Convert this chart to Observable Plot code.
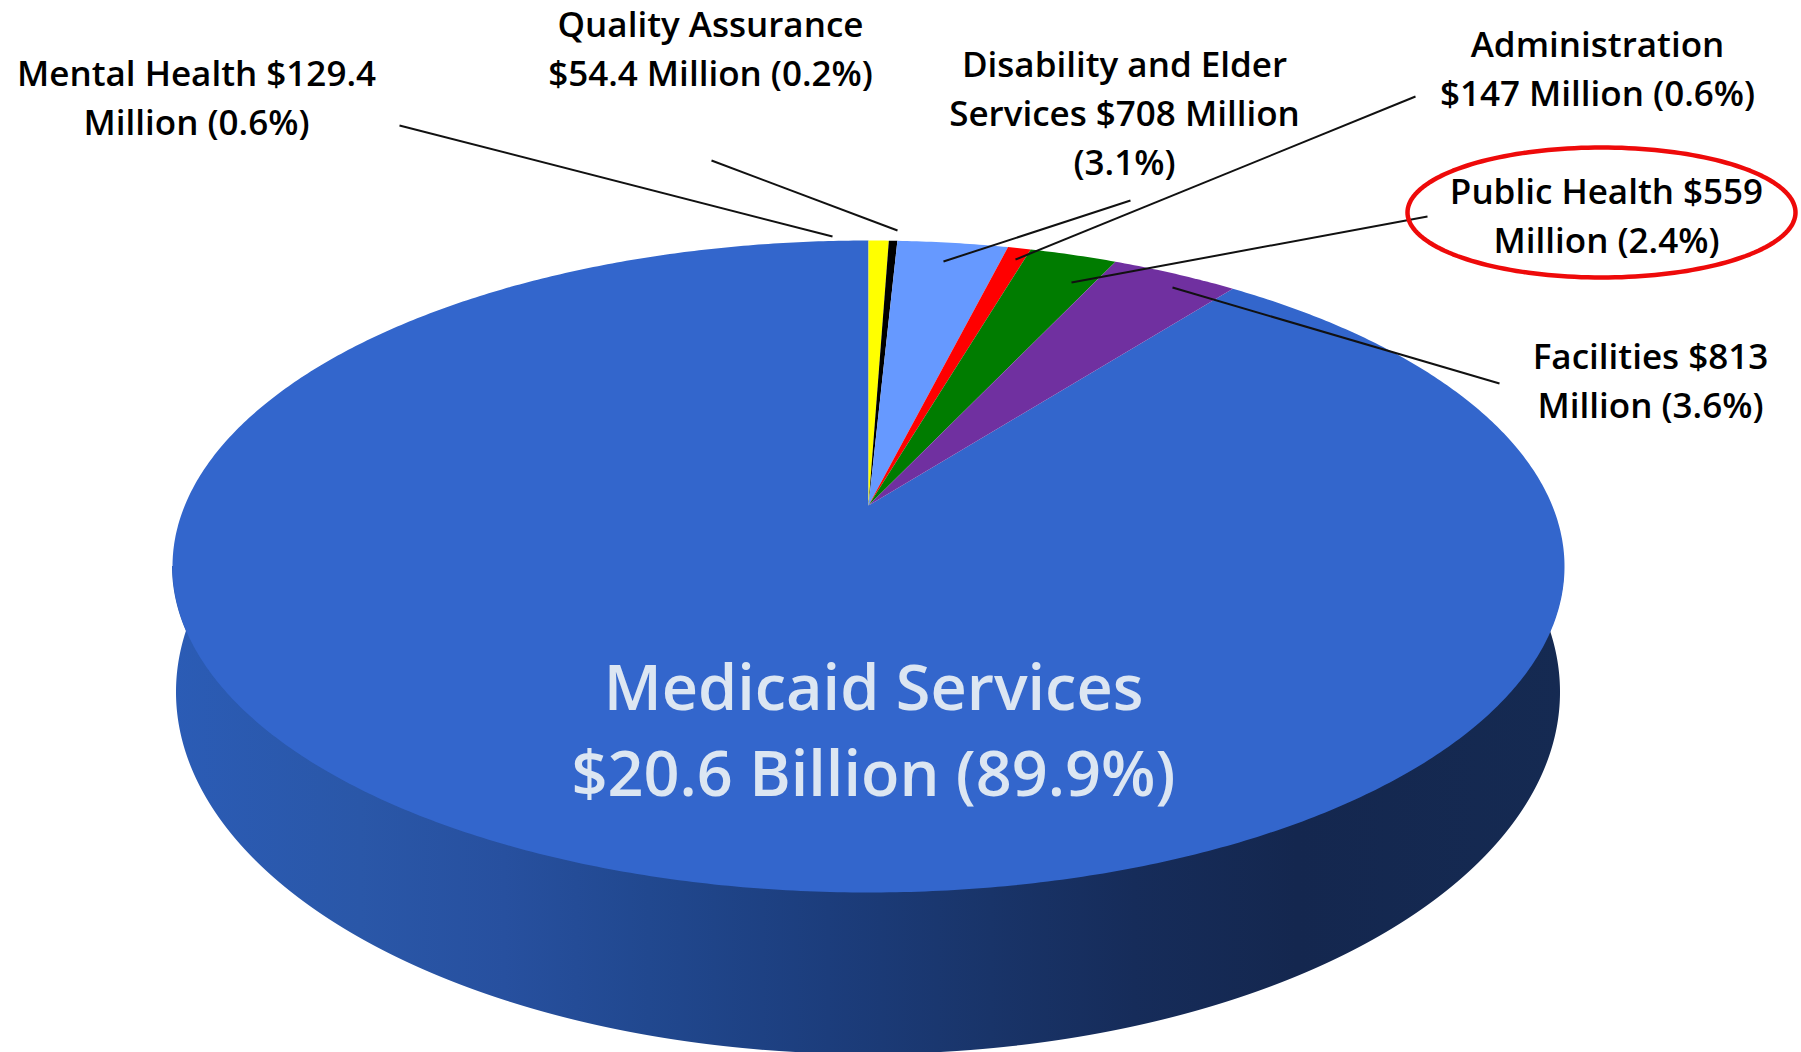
<!DOCTYPE html>
<html>
<head>
<meta charset="utf-8">
<script src="https://cdn.jsdelivr.net/npm/d3@7"></script>
<script src="https://cdn.jsdelivr.net/npm/@observablehq/plot@0.6"></script>
<style>
html,body{margin:0;padding:0;background:#fff;overflow:hidden}
svg{display:block}
</style>
</head>
<body>
<div id="chart"></div>
<script>
// Budget segments, clockwise from twelve o'clock (amounts in $ millions)
const segments = ["Mental Health","Quality Assurance","Disability and Elder Services","Administration","Public Health","Facilities","Medicaid Services"];
const amounts = [129.4,54.4,708,147,559,813,20600];
const segmentColors = ["#ffff00","#000000","#6699ff","#ff0000","#007c00","#7030a0","#3366cc"];

const labelTexts = [
  "Mental Health $129.4\nMillion (0.6%)",
  "Quality Assurance\n$54.4 Million (0.2%)",
  "Disability and Elder\nServices $708 Million\n(3.1%)",
  "Administration\n$147 Million (0.6%)",
  "Public Health $559\nMillion (2.4%)",
  "Facilities $813\nMillion (3.6%)"
];
const mainLabel = "Medicaid Services\n$20.6 Billion (89.9%)";

// layout (chart-frame units)
const labelX = [196,710,1124,1597,1606,1650];
const labelBaseline = [134,85,174,105,252,417];
const leaderFromX = [399,711,1130,1415,1427,1499];
const leaderFromY = [125,160,200,96,216,383];
const leaderToX = [832,897,943,1015,1071,1172];
const leaderToY = [236,230,261,259,282,287];
const W = 1801, H = 1052;
const disc = {cx:868, cy:566, rx:696, ry:326, apexY:505};
const rimBottom = {cy:692, rx:692, ry:362};
const callout = {cx:1601, cy:212, rx:194, ry:65};
const shadeOffsets = [0.09,0.2,0.28,0.36,0.46,0.55,0.63,0.72,0.87];
const shadeColors = ["#2b5cb6","#2a57a8","#27509f","#21488f","#1c3d7c","#193469","#162c5a","#14274f","#152a52"];

// perspective tilt of the disc: the apex sits above the ellipse centre
const a = (disc.apexY - disc.cy) / disc.ry;
function project(share) {
  const t = 2 * Math.PI * share, u = Math.sin(t), v = -Math.cos(t), d = 1 + a * v;
  return {x: disc.cx + disc.rx * u * Math.sqrt(1 - a * a) / d, y: disc.cy + disc.ry * (v + a) / d};
}
const total = d3.sum(amounts);
const wedgeRows = [];
let acc = 0;
segments.forEach((name, i) => {
  const start = acc / total; acc += amounts[i];
  const end = acc / total, n = Math.max(2, Math.ceil((end - start) * 720));
  wedgeRows.push({name, x: disc.cx, y: disc.apexY});
  for (let k = 0; k <= n; k++) wedgeRows.push({name, ...project(start + (end - start) * k / n)});
  wedgeRows.push({name, x: disc.cx, y: disc.apexY});
});
// draw the large slice first
const wedgesOrdered = [...wedgeRows.filter(d => d.name === "Medicaid Services"), ...wedgeRows.filter(d => d.name !== "Medicaid Services")];

const halfWidth = y => {
  const e = (r, cy, ry) => { const t = (y - cy) / ry; return Math.abs(t) < 1 ? r * Math.sqrt(1 - t * t) : 0; };
  return Math.max(e(disc.rx, disc.cy, disc.ry), e(rimBottom.rx, rimBottom.cy, rimBottom.ry));
};
const sideRows = d3.range(disc.cy, H + 0.5, 1).map(y => ({y, x1: disc.cx - halfWidth(y), x2: disc.cx + halfWidth(y)}));
const calloutRows = d3.range(0, 361, 2).map(deg => ({
  x: callout.cx + callout.rx * Math.cos(deg * Math.PI / 180),
  y: callout.cy + callout.ry * Math.sin(deg * Math.PI / 180)
}));
const leaders = labelTexts.map((t, i) => ({x1: leaderFromX[i], y1: leaderFromY[i], x2: leaderToX[i], y2: leaderToY[i]}));
const labels = labelTexts.map((text, i) => ({text, x: labelX[i], y: labelBaseline[i]}));

const gradient = () => {
  const defs = d3.create("svg:defs");
  const g = defs.append("linearGradient").attr("id", "sideShade").attr("gradientUnits", "userSpaceOnUse")
    .attr("x1", 0).attr("x2", W).attr("y1", 0).attr("y2", 0);
  shadeOffsets.forEach((o, i) => g.append("stop").attr("offset", o).attr("stop-color", shadeColors[i]));
  return defs.node();
};

const chart = Plot.plot({
  width: W, height: H, margin: 0,
  style: {fontFamily: "'Open Sans', sans-serif", background: "#fff", overflow: "hidden"},
  x: {domain: [0, W], range: [0, W], axis: null},
  y: {domain: [0, H], range: [0, H], axis: null},
  color: {domain: segments, range: segmentColors},
  marks: [
    gradient,
    Plot.areaX(sideRows, {y: "y", x1: "x1", x2: "x2", fill: "url(#sideShade)"}),
    Plot.line(wedgesOrdered, {x: "x", y: "y", z: "name", fill: "name", stroke: "none", curve: "linear"}),
    Plot.link(leaders, {x1: "x1", y1: "y1", x2: "x2", y2: "y2", stroke: "#111", strokeWidth: 2}),
    Plot.text(labels, {x: "x", y: "y", text: "text", fontSize: 35, fontWeight: 600, lineHeight: 49 / 35, lineAnchor: "bottom", textAnchor: "middle", fill: "#000"}),
    Plot.text([mainLabel], {x: () => 873, y: () => 795, text: d => d, fontSize: 63, fontWeight: 600, lineHeight: 86 / 63, lineAnchor: "bottom", textAnchor: "middle", fill: "#dce6f2"}),
    Plot.line(calloutRows, {x: "x", y: "y", stroke: "#ee0a0a", strokeWidth: 4.5})
  ]
});
document.getElementById("chart").append(chart);
</script>
</body>
</html>
